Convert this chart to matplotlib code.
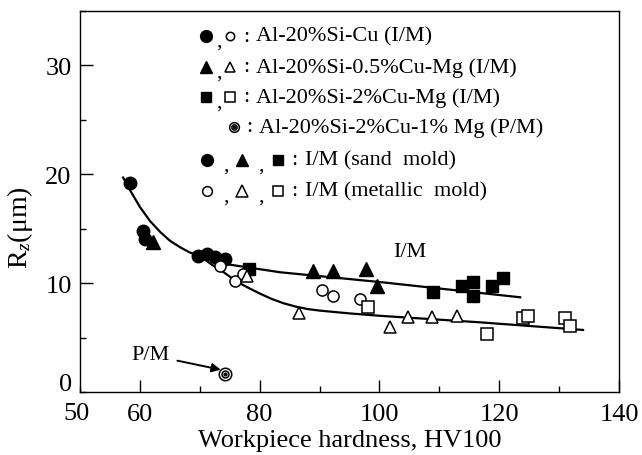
import matplotlib
matplotlib.use("Agg")
import matplotlib.pyplot as plt
from matplotlib.ticker import MultipleLocator

plt.rcParams["font.family"] = ["Liberation Serif", "DejaVu Serif"]
plt.rcParams["mathtext.fontset"] = "custom"
plt.rcParams["mathtext.rm"] = "Liberation Serif"
plt.rcParams["mathtext.it"] = "Liberation Serif:italic"

# Al-20%Si-Cu (I/M): sand mold (filled) / metallic mold (open)
cu_sand_x = [58.3, 60.5, 60.9, 69.7, 71.2, 72.5, 74.2]
cu_sand_y = [19.2, 14.8, 14.1, 12.5, 12.7, 12.4, 12.2]
cu_metal_x = [73.4, 75.9, 77.2, 90.4, 92.2, 96.7]
cu_metal_y = [11.6, 10.2, 10.8, 9.4, 8.8, 8.5]

# Al-20%Si-0.5%Cu-Mg (I/M)
mg05_sand_x = [62.2, 88.9, 92.2, 97.7, 99.6]
mg05_sand_y = [13.8, 11.1, 11.1, 11.3, 9.7]
mg05_metal_x = [77.9, 86.6, 101.8, 104.8, 108.8, 112.9]
mg05_metal_y = [10.7, 7.3, 6.0, 6.9, 6.9, 7.0]

# Al-20%Si-2%Cu-Mg (I/M)
cu2_sand_x = [78.2, 108.9, 113.8, 115.6, 115.6, 118.8, 120.6]
cu2_sand_y = [11.3, 9.2, 9.7, 10.1, 8.8, 9.7, 10.5]
cu2_metal_x = [98.1, 117.9, 124.0, 124.8, 131.0, 131.8]
cu2_metal_y = [7.8, 5.3, 6.8, 7.0, 6.8, 6.1]

# Al-20%Si-2%Cu-1%Mg (P/M)
pm_x = [74.2]
pm_y = [1.65]

# hand-fitted trend curves
sand_curve_x = [57.2, 58.3, 60.0, 61.7, 63.4, 65.0, 66.7, 68.4, 70.0, 72.5,
                75.0, 83.4, 100.1, 123.5]
sand_curve_y = [19.7, 18.6, 17.0, 15.7, 14.7, 13.9, 13.3, 12.8, 12.5, 12.1,
                11.7, 11.0, 10.1, 8.7]
metal_curve_x = [70.0, 72.0, 74.0, 76.0, 78.0, 80.0, 82.0, 84.0, 86.0, 88.0,
                 90.0, 95.0, 100.1, 116.8, 134.0]
metal_curve_y = [12.5, 11.7, 11.0, 10.2, 9.6, 9.05, 8.55, 8.15, 7.85, 7.62,
                 7.48, 7.22, 7.0, 6.4, 5.7]

legend_labels = [
    "Al-20%Si-Cu (I/M)",
    "Al-20%Si-0.5%Cu-Mg (I/M)",
    "Al-20%Si-2%Cu-Mg (I/M)",
    "Al-20%Si-2%Cu-1% Mg (P/M)",
    "I/M (sand  mold)",
    "I/M (metallic  mold)",
]

fig = plt.figure(figsize=(6.42, 4.56), dpi=100)
ax = fig.add_axes([80 / 642, 1 - 393 / 456, 539 / 642, 381 / 456])

ax.plot(sand_curve_x, sand_curve_y, color="black", lw=1.6, zorder=2)
ax.plot(metal_curve_x, metal_curve_y, color="black", lw=1.6, zorder=2)

filled = dict(color="black", linestyle="none", zorder=3)
hollow = dict(color="black", markerfacecolor="white", markeredgewidth=1.1,
              linestyle="none", zorder=3)
ax.plot(cu_sand_x, cu_sand_y, marker="o", ms=9, **filled)
ax.plot(mg05_sand_x, mg05_sand_y, marker="^", ms=10, **filled)
ax.plot(cu2_sand_x, cu2_sand_y, marker="s", ms=9, **filled)
ax.plot(cu_metal_x, cu_metal_y, marker="o", ms=8, **hollow)
ax.plot(mg05_metal_x, mg05_metal_y, marker="^", ms=9, **hollow)
ax.plot(cu2_metal_x, cu2_metal_y, marker="s", ms=8, **hollow)

# P/M point: double ring with a dot
ax.plot(pm_x, pm_y, marker="o", ms=9, **hollow)
ax.plot(pm_x, pm_y, marker="o", ms=5, **hollow)
ax.plot(pm_x, pm_y, marker="o", ms=2, **filled)
ax.annotate("P/M", xy=(73.5, 2.05), xytext=(61.7, 3.4),
            fontsize=16, ha="center", va="center",
            arrowprops=dict(arrowstyle="-|>", color="black", lw=1.4,
                            mutation_scale=13, shrinkA=4, shrinkB=0))
ax.text(105.1, 12.9, "I/M", fontsize=16, ha="center", va="center")

# legend block, built by hand in axes fraction coordinates
def fx(px):
    return (px - 80) / 539


rows_y = [(393 - py) / 381 for py in (37, 68, 98, 128, 161, 192)]
row_symbols = [
    [(206, "o", True, 8.5), (230, "o", False, 6)],
    [(206, "^", True, 9), (230, "^", False, 7.5)],
    [(206, "s", True, 7.5), (230, "s", False, 6.5)],
    [(234, "pm", False, 7)],
    [(207, "o", True, 8.5), (242, "^", True, 9), (278, "s", True, 7.5)],
    [(207, "o", False, 7), (242, "^", False, 8), (278, "s", False, 7)],
]
colon_px = [246, 246, 246, 249, 294, 294]
text_px = [256, 256, 256, 259, 305, 305]

for y, symbols, cx, tx, label in zip(rows_y, row_symbols, colon_px, text_px, legend_labels):
    for i, (px, mk, solid, size) in enumerate(symbols):
        style = filled if solid else hollow
        if mk == "pm":
            ax.plot([fx(px)], [y], marker="o", ms=size, transform=ax.transAxes,
                    clip_on=False, **hollow)
            ax.plot([fx(px)], [y], marker="o", ms=3.8, transform=ax.transAxes,
                    clip_on=False, **hollow)
            ax.plot([fx(px)], [y], marker="o", ms=1.6, transform=ax.transAxes,
                    clip_on=False, **filled)
        else:
            ax.plot([fx(px)], [y], marker=mk, ms=size, transform=ax.transAxes,
                    clip_on=False, **style)
        if i < len(symbols) - 1:
            nxt = symbols[i + 1][0]
            ax.text(fx((px + nxt) / 2 + 1), y - 0.012, ",", fontsize=16,
                    ha="center", va="center", transform=ax.transAxes)
    ax.text(fx(cx), y, ":", fontsize=16, ha="center", va="center",
            transform=ax.transAxes)
    ax.text(fx(tx), y, label, fontsize=16, ha="left", va="center",
            transform=ax.transAxes)

ax.set_xlim(50, 140)
ax.set_ylim(0, 35)
ax.set_xticks([60, 80, 100, 120, 140])
ax.set_yticks([10, 20, 30])
ax.xaxis.set_minor_locator(MultipleLocator(10))
ax.yaxis.set_minor_locator(MultipleLocator(5))
ax.tick_params(which="both", direction="in", top=False, right=False,
               labelsize=19, width=1.0)
ax.tick_params(which="major", length=9)
ax.tick_params(which="minor", length=4)
ax.tick_params(axis="x", pad=8)
ax.tick_params(axis="y", pad=6)
for spine in ax.spines.values():
    spine.set_linewidth(1.0)

# corner labels sit slightly off the regular tick label positions
ax.text(-0.007, -0.025, "50", fontsize=19, ha="center", va="top",
        transform=ax.transAxes)
ax.text(-0.015, 0.02, "0", fontsize=19, ha="right", va="center",
        transform=ax.transAxes)

ax.set_xlabel("Workpiece hardness, HV100", fontsize=19, labelpad=3)
ax.set_ylabel(r"R$_{\mathit{z}}$($\mathrm{\mu}$m)", fontsize=20)
ax.yaxis.set_label_coords(-0.083, 0.433)

fig.savefig("out.png", dpi=100)
